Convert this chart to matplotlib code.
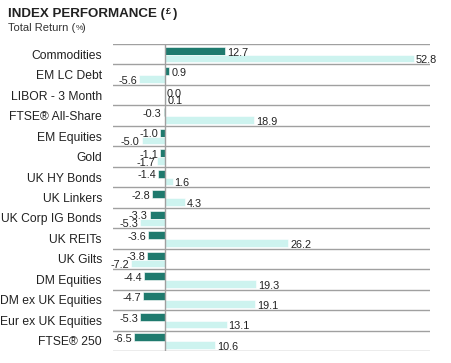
import matplotlib.pyplot as plt
import numpy as np

# data
categories = ["Commodities", "EM LC Debt", "LIBOR - 3 Month", "FTSE® All-Share",
              "EM Equities", "Gold", "UK HY Bonds", "UK Linkers", "UK Corp IG Bonds",
              "UK REITs", "UK Gilts", "DM Equities", "DM ex UK Equities",
              "Eur ex UK Equities", "FTSE® 250"]
period_a = [12.7, 0.9, 0.0, -0.3, -1.0, -1.1, -1.4, -2.8, -3.3, -3.6, -3.8,
            -4.4, -4.7, -5.3, -6.5]
period_b = [52.8, -5.6, 0.1, 18.9, -5.0, -1.7, 1.6, 4.3, -5.3, 26.2, -7.2,
            19.3, 19.1, 13.1, 10.6]

dark = "#1f7a6e"
light = "#cdf3ef"
plt.rcParams['font.family'] = ["Liberation Sans", "DejaVu Sans"]

fig = plt.figure(figsize=(4.51, 3.63), dpi=100)
ax = fig.add_axes([113/451, 1 - 351/363, (430-113)/451, (351-44)/363])

y = np.arange(len(categories))
ax.barh(y - 0.165, period_a, height=0.39, color=dark, edgecolor="white", linewidth=0.4)
ax.barh(y + 0.215, period_b, height=0.37, color=light, edgecolor="white", linewidth=0.4)

# value labels
for i, (a, b) in enumerate(zip(period_a, period_b)):
    for v, yy in ((a, i - 0.08), (b, i + 0.3)):
        if v >= 0:
            ax.text(v + 0.4, yy, f"{v:.1f}", ha="left", va="center", fontsize=7.8,
                    color="#222222")
        else:
            ax.text(v - 0.4, yy, f"{v:.1f}", ha="right", va="center", fontsize=7.8,
                    color="#222222")

ax.set_xlim(-11.06, 56.3)
ax.set_ylim(len(categories) - 0.5, -0.5)
for g in np.arange(-0.5, len(categories), 1.0):
    ax.axhline(g, color="#a0a0a0", lw=1.0, zorder=0)
ax.axvline(0, color="#a0a0a0", lw=1.0, zorder=3)

ax.set_yticks(y)
ax.set_yticklabels(categories, fontsize=8.7, color="#222222")
ax.tick_params(axis="y", length=0, pad=8)
ax.set_xticks([])
for s in ax.spines.values():
    s.set_visible(False)

t = fig.text(8/451, 1 - 14.5/363, "INDEX PERFORMANCE (", fontsize=9.6, fontweight="bold",
             va="center", ha="left", color="#222222")
fig.canvas.draw()
bb = t.get_window_extent()
x1 = bb.x1 / 451
fig.text(x1 + 0.002, 1 - 11/363, "£", fontsize=6.5, fontweight="bold", va="center",
         ha="left", color="#222222")
fig.text(x1 + 0.017, 1 - 14.5/363, ")", fontsize=9.6, fontweight="bold", va="center",
         ha="left", color="#222222")
fig.text(8/451, 1 - 28/363, "Total Return (", fontsize=8, va="center", ha="left",
         color="#333333")
t2 = fig.text(8/451, 1 - 28/363, "Total Return (", fontsize=8, va="center", ha="left",
              alpha=0)
fig.canvas.draw()
x2 = t2.get_window_extent().x1 / 451
fig.text(x2, 1 - 28.5/363, "%", fontsize=6, va="center", ha="left", color="#333333")
fig.text(x2 + 0.016, 1 - 28/363, ")", fontsize=8, va="center", ha="left", color="#333333")

fig.savefig("out.png", dpi=100)
